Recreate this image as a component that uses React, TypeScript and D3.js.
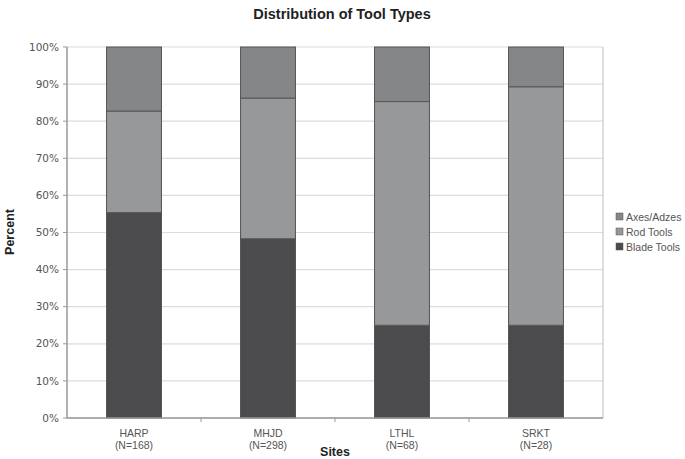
import React from 'react';
import * as d3 from 'd3';

const sites = ['HARP', 'MHJD', 'LTHL', 'SRKT'];
const siteN = ['(N=168)', '(N=298)', '(N=68)', '(N=28)'];
const bladeTools = [93, 144, 17, 7];
const rodTools = [46, 113, 41, 18];
const axesAdzes = [29, 41, 10, 3];
const seriesNames = ['Blade Tools', 'Rod Tools', 'Axes/Adzes'];
const seriesColors = ['#4b4b4d', '#97989a', '#858688'];
const yTicks = [0, 0.1, 0.2, 0.3, 0.4, 0.5, 0.6, 0.7, 0.8, 0.9, 1];

const W = 685;
const H = 459;
const margin = {top: 47, right: 82, bottom: 41, left: 67};

const App = () => {
  const innerW = W - margin.left - margin.right;
  const innerH = H - margin.top - margin.bottom;

  const x = d3.scaleBand().domain(sites).range([0, innerW]).paddingInner(0.59).paddingOuter(0.295);
  const y = d3.scaleLinear().domain([0, 1]).range([innerH, 0]);

  const rows = sites.map((s, i) => {
    const tot = bladeTools[i] + rodTools[i] + axesAdzes[i];
    return {site: s, b: bladeTools[i] / tot, r: rodTools[i] / tot, a: axesAdzes[i] / tot};
  });
  const stacked = d3.stack<any>().keys(['b', 'r', 'a'])(rows);
  const pct = d3.format('.0%');
  const step = x.step();

  return (
    <svg width={W} height={H} style={{position: 'absolute', left: 0, top: 0, background: '#fff'}}>
      <text x={342} y={19} textAnchor="middle" fontFamily="Liberation Sans, Arial" fontWeight="bold" fontSize={14.5} fill="#222">
        Distribution of Tool Types
      </text>
      <g transform={`translate(${margin.left},${margin.top})`}>
        {yTicks.map(t => (
          <g key={t}>
            <line x1={0} x2={innerW} y1={y(t)} y2={y(t)} stroke="#dcdcdc" strokeWidth={1.2} />
            <line x1={-4} x2={0} y1={y(t)} y2={y(t)} stroke="#999" />
            <text x={-8} y={y(t)} dy="0.35em" textAnchor="end" fontFamily="DejaVu Sans, Verdana" fontSize={10.5} fill="#555">
              {pct(t)}
            </text>
          </g>
        ))}
        <line x1={innerW} x2={innerW} y1={0} y2={innerH} stroke="#c8c8c8" strokeWidth={1.2} />
        {stacked.map((layer, li) =>
          layer.map((d, i) => (
            <rect
              key={li + '-' + i}
              x={x(sites[i])}
              y={y(d[1])}
              width={x.bandwidth()}
              height={y(d[0]) - y(d[1])}
              fill={seriesColors[li]}
              stroke="#555"
              strokeWidth={1}
            />
          ))
        )}
        <line x1={0} x2={0} y1={0} y2={innerH} stroke="#999" strokeWidth={1.5} />
        <line x1={0} x2={innerW} y1={innerH} y2={innerH} stroke="#999" strokeWidth={1.5} />
        {[1, 2, 3].map(k => (
          <line key={k} x1={k * step} x2={k * step} y1={innerH} y2={innerH + 4} stroke="#999" />
        ))}
        {sites.map((s, i) => (
          <text key={s} x={(x(s) as number) + x.bandwidth() / 2} y={innerH + 19} textAnchor="middle" fontFamily="Liberation Sans, Arial" fontSize={10.5} fill="#555">
            <tspan x={(x(s) as number) + x.bandwidth() / 2}>{s}</tspan>
            <tspan x={(x(s) as number) + x.bandwidth() / 2} dy={12}>{siteN[i]}</tspan>
          </text>
        ))}
      </g>
      <text x={335} y={456} textAnchor="middle" fontFamily="Liberation Sans, Arial" fontWeight="bold" fontSize={12.5} fill="#222">
        Sites
      </text>
      <text transform="translate(14,232) rotate(-90)" textAnchor="middle" fontFamily="Liberation Sans, Arial" fontWeight="bold" fontSize={12.5} fill="#222">
        Percent
      </text>
      {[2, 1, 0].map((si, k) => (
        <g key={si} transform={`translate(616,${213 + k * 15})`}>
          <rect width={7} height={7} fill={seriesColors[si]} stroke="#555" strokeWidth={0.5} />
          <text x={10} y={4} dy="0.35em" fontFamily="Liberation Sans, Arial" fontSize={10.5} fill="#555">
            {seriesNames[si]}
          </text>
        </g>
      ))}
    </svg>
  );
};

export default App;
